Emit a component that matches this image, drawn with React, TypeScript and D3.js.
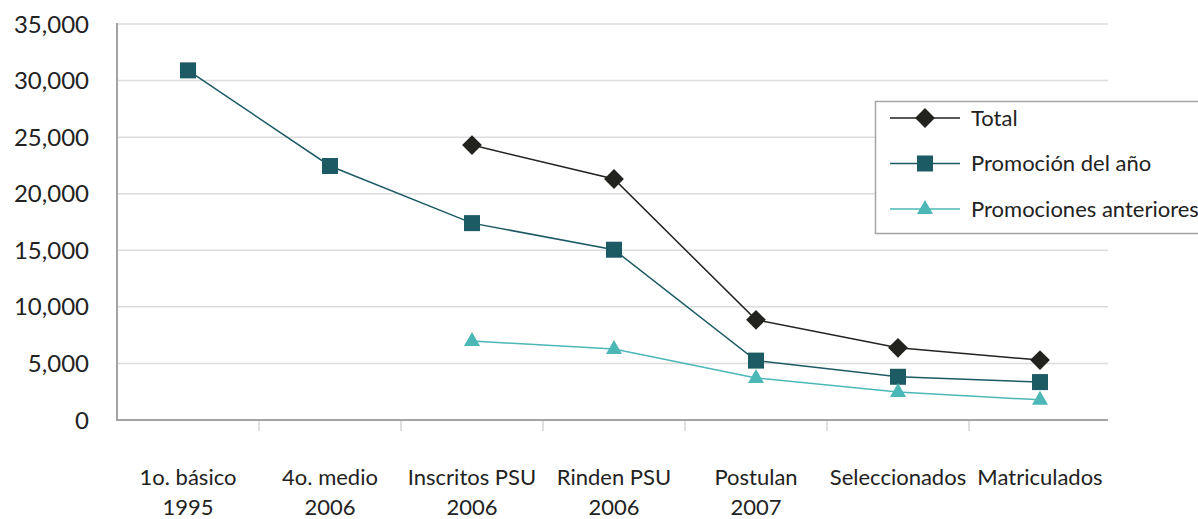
import React from "react";
import * as d3 from "d3";

const categories = [
  ["1o. básico", "1995"],
  ["4o. medio", "2006"],
  ["Inscritos PSU", "2006"],
  ["Rinden PSU", "2006"],
  ["Postulan", "2007"],
  ["Seleccionados", ""],
  ["Matriculados", ""],
];

const total = [null, null, 24300, 21300, 8850, 6380, 5300];
const promocionAnio = [30900, 22450, 17400, 15050, 5250, 3820, 3350];
const promocionesAnteriores = [null, null, 6980, 6280, 3720, 2480, 1780];

const yTicks = [0, 5000, 10000, 15000, 20000, 25000, 30000, 35000];

const dark = "#22231f";
const teal = "#1c5a64";
const light = "#4cb7b7";
const font = "Lato, sans-serif";

export default function App() {
  const width = 1198;
  const height = 519;
  const margin = { top: 24, left: 117, right: 87, bottom: 99 };
  const iheight = height - margin.top - margin.bottom;

  const x = d3
    .scaleBand()
    .domain(categories.map((d, i) => String(i)))
    .range([margin.left, margin.left + 7 * 142]);
  const y = d3.scaleLinear().domain([0, 35000]).range([margin.top + iheight, margin.top]);
  const cx = (i: number) => (x(String(i)) as number) + x.bandwidth() / 2;
  const x1 = margin.left + 7 * 142 - 3;

  const line = d3
    .line<number | null>()
    .defined((d) => d != null)
    .x((d, i) => cx(i))
    .y((d) => y(d as number));

  const diamond = (px: number, py: number, key: string) => (
    <rect key={key} x={px - 7} y={py - 7} width={14} height={14} fill={dark}
      transform={`rotate(45 ${px} ${py})`} />
  );
  const square = (px: number, py: number, key: string) => (
    <rect key={key} x={px - 8} y={py - 8} width={16} height={16} fill={teal} />
  );
  const triangle = (px: number, py: number, key: string) => (
    <path key={key} d={`M${px},${py - 9} L${px + 8},${py + 5} L${px - 8},${py + 5} Z`} fill={light} />
  );

  const series = [
    { name: "Total", data: total, color: dark, marker: diamond },
    { name: "Promoción del año", data: promocionAnio, color: teal, marker: square },
    { name: "Promociones anteriores", data: promocionesAnteriores, color: light, marker: triangle },
  ];

  const y0 = y(0);

  return (
    <svg width={width} height={height} style={{ position: "absolute", left: 0, top: 0 }}>
      {yTicks.map((t) => (
        <g key={t}>
          {t > 0 && <line x1={margin.left} x2={x1} y1={y(t)} y2={y(t)} stroke="#dcdcdc" strokeWidth={1.5} />}
          <text x={89} y={y(t)} dy="0.36em" textAnchor="end" fontFamily={font} fontSize={24} fill="#222">
            {d3.format(",")(t)}
          </text>
        </g>
      ))}
      <line x1={margin.left} x2={margin.left} y1={margin.top - 1} y2={y0} stroke="#a3a5a3" strokeWidth={2} />
      <line x1={margin.left - 1} x2={x1} y1={y0} y2={y0} stroke="#a3a5a3" strokeWidth={2} />
      {categories.slice(1).map((c, i) => {
        const tx = x(String(i + 1)) as number;
        return <line key={i} x1={tx} x2={tx} y1={y0 + 1} y2={y0 + 11} stroke="#d6d6d6" strokeWidth={1.5} />;
      })}
      {categories.map((c, i) => (
        <text key={i} x={cx(i)} textAnchor="middle" fontFamily={font} fontSize={22} fill="#222">
          <tspan x={cx(i)} y={485}>{c[0]}</tspan>
          {c[1] && <tspan x={cx(i)} y={515}>{c[1]}</tspan>}
        </text>
      ))}
      {series.map((s) => (
        <g key={s.name}>
          <path d={line(s.data) || ""} fill="none" stroke={s.color} strokeWidth={1.5} />
          {s.data.map((v, i) => (v == null ? null : s.marker(cx(i), y(v), s.name + i)))}
        </g>
      ))}
      <rect x={875.5} y={101.5} width={340} height={132} fill="#fff" stroke="#a3a5a3" strokeWidth={1.5} />
      {series.map((s, i) => {
        const ly = 118 + i * 45.5;
        return (
          <g key={s.name}>
            <line x1={890} x2={960} y1={ly} y2={ly} stroke={s.color} strokeWidth={1.5} />
            {s.marker(925, ly, "lg" + i)}
            <text x={971} y={ly} dy="0.36em" fontFamily={font} fontSize={22} fill="#222">{s.name}</text>
          </g>
        );
      })}
    </svg>
  );
}
